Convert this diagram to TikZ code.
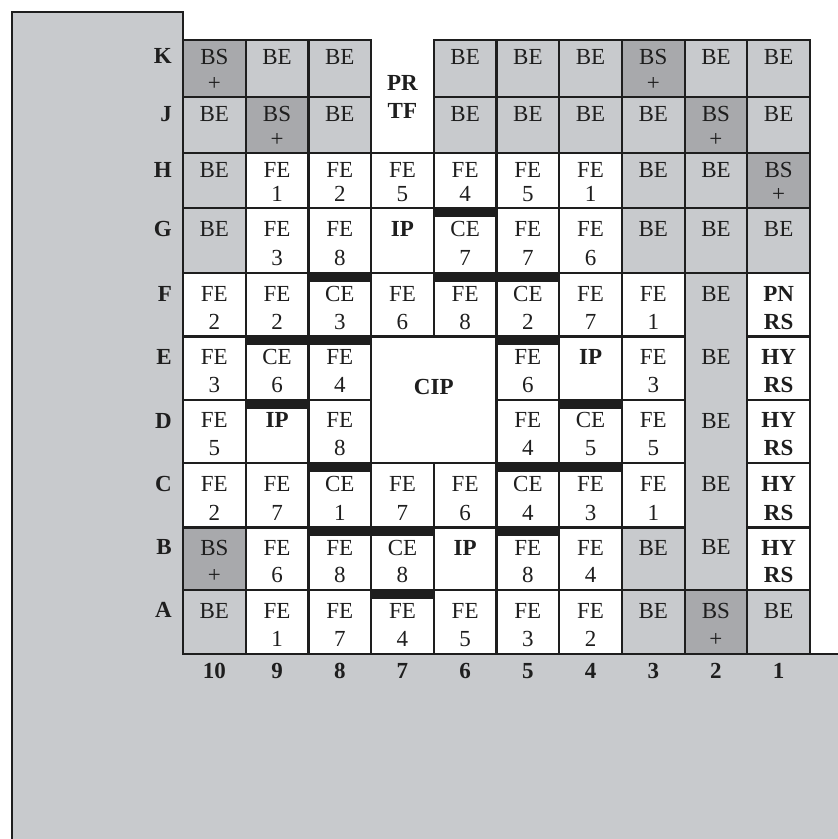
\documentclass[tikz,border=0pt]{standalone}
\usepackage{fontspec}
\setmainfont{Liberation Serif}
\definecolor{bgg}{HTML}{C8CACD}
\definecolor{beg}{HTML}{C8CACD}
\definecolor{bsg}{HTML}{A8A9AC}
\definecolor{ink}{HTML}{1E1E1E}
\def\Rows{{40,96.7,152.7,208.3,273.3,336.5,400,463,527.5,590,654}}
\def\CW{62.7}
\def\XL{183}
\tikzset{
  txt/.style={font=\fontsize{23bp}{27bp}\selectfont, text=ink, inner sep=0pt},
  bld/.style={font=\fontsize{23bp}{27bp}\selectfont\bfseries, text=ink, inner sep=0pt},
  grid line/.style={draw=ink, line width=2.2bp},
}
% #1 column index (0 = column 10), #2 row index (0 = K), #3 fill, #4 text style, #5 line 1, #6 line 2
\newcommand\Cell[6]{%
  \pgfmathsetmacro\ya{\Rows[#2]}%
  \pgfmathsetmacro\yb{\Rows[#2+1]}%
  \pgfmathsetmacro\xa{\XL+\CW*#1}%
  \pgfmathsetmacro\xb{\xa+\CW}%
  \pgfmathsetmacro\xm{\xa+\CW/2}%
  \pgfmathsetmacro\ba{\ya+0.44*(\yb-\ya)}%
  \pgfmathsetmacro\bb{\ya+0.885*(\yb-\ya)}%
  \path[fill=#3, grid line] (\xa,\ya) rectangle (\xb,\yb);
  \node[#4, anchor=base] (c#1r#2a) at (\xm,\ba) {#5};
  \node[#4, anchor=base] (c#1r#2b) at (\xm,\bb) {#6};
}
\newcommand\FE[3]{\Cell{#1}{#2}{white}{txt}{FE}{#3}}
\newcommand\CE[3]{\Cell{#1}{#2}{white}{txt}{CE}{#3}}
\newcommand\BE[2]{\Cell{#1}{#2}{beg}{txt}{BE}{}}
\newcommand\BS[2]{\Cell{#1}{#2}{bsg}{txt}{BS}{+}}
\newcommand\BD[4]{\Cell{#1}{#2}{white}{bld}{#3}{#4}}
% thick bar at the top of a cell
\newcommand\TopBar[2]{%
  \pgfmathsetmacro\ya{\Rows[#2]}%
  \pgfmathsetmacro\xa{\XL+\CW*#1}%
  \pgfmathsetmacro\xb{\xa+\CW}%
  \fill[ink] (\xa,\ya) rectangle (\xb,\ya+8.5);
}
\begin{document}
\begin{tikzpicture}[x=1bp, y=-1bp]
\useasboundingbox (0,0) rectangle (838,839);
% grey surround
\fill[bgg] (12,12) -- (183,12) -- (183,654) -- (838,654) -- (838,839) -- (12,839) -- cycle;
\draw[grid line] (12,839) -- (12,12) -- (183,12) -- (183,40);
\draw[grid line] (810,654) -- (838,654);
% PR / TF open cell (column 7, rows K-J)
\fill[white] (371.1,38) rectangle (433.8,152.7);
\node[bld, anchor=base] (prtf1) at (402.4,90) {PR};
\node[bld, anchor=base] (prtf2) at (402.4,118) {TF};
% row K
\BS{0}{0} \BE{1}{0} \BE{2}{0} \BE{4}{0} \BE{5}{0} \BE{6}{0} \BS{7}{0} \BE{8}{0} \BE{9}{0}
% row J
\BE{0}{1} \BS{1}{1} \BE{2}{1} \BE{4}{1} \BE{5}{1} \BE{6}{1} \BE{7}{1} \BS{8}{1} \BE{9}{1}
% row H
\BE{0}{2} \FE{1}{2}{1} \FE{2}{2}{2} \FE{3}{2}{5} \FE{4}{2}{4} \FE{5}{2}{5} \FE{6}{2}{1} \BE{7}{2} \BE{8}{2} \BS{9}{2}
% row G
\BE{0}{3} \FE{1}{3}{3} \FE{2}{3}{8} \BD{3}{3}{IP}{} \CE{4}{3}{7} \FE{5}{3}{7} \FE{6}{3}{6} \BE{7}{3} \BE{8}{3} \BE{9}{3}
% row F
\FE{0}{4}{2} \FE{1}{4}{2} \CE{2}{4}{3} \FE{3}{4}{6} \FE{4}{4}{8} \CE{5}{4}{2} \FE{6}{4}{7} \FE{7}{4}{1} \BD{9}{4}{PN}{RS}
% row E
\FE{0}{5}{3} \CE{1}{5}{6} \FE{2}{5}{4} \FE{5}{5}{6} \BD{6}{5}{IP}{} \FE{7}{5}{3} \BD{9}{5}{HY}{RS}
% row D
\FE{0}{6}{5} \BD{1}{6}{IP}{} \FE{2}{6}{8} \FE{5}{6}{4} \CE{6}{6}{5} \FE{7}{6}{5} \BD{9}{6}{HY}{RS}
% row C
\FE{0}{7}{2} \FE{1}{7}{7} \CE{2}{7}{1} \FE{3}{7}{7} \FE{4}{7}{6} \CE{5}{7}{4} \FE{6}{7}{3} \FE{7}{7}{1} \BD{9}{7}{HY}{RS}
% row B
\BS{0}{8} \FE{1}{8}{6} \FE{2}{8}{8} \CE{3}{8}{8} \BD{4}{8}{IP}{} \FE{5}{8}{8} \FE{6}{8}{4} \BE{7}{8} \BD{9}{8}{HY}{RS}
% row A
\BE{0}{9} \FE{1}{9}{1} \FE{2}{9}{7} \FE{3}{9}{4} \FE{4}{9}{5} \FE{5}{9}{3} \FE{6}{9}{2} \BE{7}{9} \BS{8}{9} \BE{9}{9}
% CIP (columns 7-6, rows E-D)
\path[fill=white, grid line] (371.1,336.5) rectangle (496.5,463);
\node[bld, anchor=base] (cip) at (433.8,394) {CIP};
% column 2, rows F-B, one grey strip
\path[fill=beg, grid line] (684.6,273.3) rectangle (747.3,590);
\foreach \r/\b in {4/301.1, 5/364.4, 6/428.2, 7/491.4, 8/554.8}
  \node[txt, anchor=base] (strip\r) at (716,\b) {BE};
% thick bars
\TopBar{4}{3}
\TopBar{2}{4} \TopBar{4}{4} \TopBar{5}{4}
\TopBar{1}{5} \TopBar{2}{5} \TopBar{5}{5}
\TopBar{1}{6} \TopBar{6}{6}
\TopBar{2}{7} \TopBar{5}{7} \TopBar{6}{7}
\TopBar{2}{8} \TopBar{3}{8} \TopBar{5}{8}
\TopBar{3}{9}
% row labels
\foreach \l/\b in {K/63.8, J/121.3, H/177.2, G/236.9, F/301.1, E/364.4, D/428.2, C/491.4, B/554.8, A/617.3}
  \node[bld, anchor=base east] (row\l) at (172,\b) {\l};
% column labels
\foreach \c [count=\i from 0] in {10,9,8,7,6,5,4,3,2,1}
  \node[bld, anchor=base] (col\c) at ({183+62.7*\i+31.35},678) {\c};
\end{tikzpicture}
\end{document}
